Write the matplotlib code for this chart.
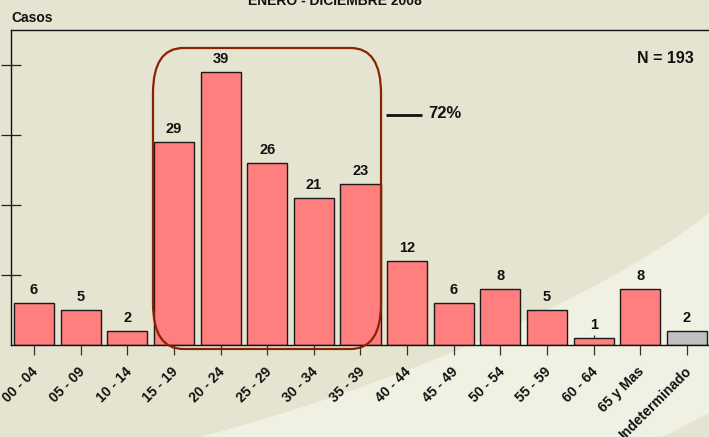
import numpy as np
import matplotlib
matplotlib.use("Agg")
import matplotlib.pyplot as plt
from matplotlib.patches import FancyBboxPatch, PathPatch
from matplotlib.path import Path

plt.rcParams["font.family"] = ["Liberation Sans", "DejaVu Sans"]
plt.rcParams["font.weight"] = "bold"

# casos por grupo de edad, enero - diciembre 2008
grupos = ["00 - 04", "05 - 09", "10 - 14", "15 - 19", "20 - 24", "25 - 29",
          "30 - 34", "35 - 39", "40 - 44", "45 - 49", "50 - 54", "55 - 59",
          "60 - 64", "65 y Mas", "Indeterminado"]
casos = [6, 5, 2, 29, 39, 26, 21, 23, 12, 6, 8, 5, 1, 8, 2]
total = 193
porcentaje_15_39 = 72

W, H = 709, 437
BG = "#E5E4D0"
LIGHT = "#F0F0E3"

fig = plt.figure(figsize=(W / 100, H / 100), dpi=100, facecolor=BG)


def px(x, y):
    return (x / W, 1 - y / H)


# franja clara de fondo
verts = [px(200, 437), px(380, 390), px(600, 300), px(709, 213),
         px(709, 413), px(663, 437), px(200, 437)]
codes = [Path.MOVETO, Path.CURVE4, Path.CURVE4, Path.CURVE4,
         Path.LINETO, Path.LINETO, Path.CLOSEPOLY]
fig.patches.append(PathPatch(Path(verts, codes), transform=fig.transFigure,
                             facecolor=LIGHT, edgecolor="none", zorder=-5))

ax = fig.add_axes([10.7 / W, (H - 345) / H, 699.6 / W, 315 / H])
ax.set_facecolor("none")
ax.set_zorder(2)

x = np.arange(len(grupos))
colores = ["#FF7F7F"] * (len(grupos) - 1) + ["#C0C0C0"]
ax.bar(x, casos, width=0.858, color=colores, edgecolor="#1a1a1a",
       linewidth=1.0, zorder=2)

ax.set_xlim(-0.5, 14.5)
ax.set_ylim(0, 45)

for xi, v in zip(x, casos):
    ax.annotate(str(v), (xi, v), xytext=(0, 4.5), textcoords="offset points",
                ha="center", va="bottom", fontsize=10.5, fontweight="bold",
                color="#111")

for xi, g in zip(x, grupos):
    ax.annotate(g, (xi, 0), xytext=(1.5, -17.5), textcoords="offset points",
                ha="right", va="center", rotation=45, rotation_mode="anchor",
                fontsize=10, fontweight="bold", color="#111",
                annotation_clip=False)

ax.set_xticks(x)
ax.set_yticks([10, 20, 30, 40])
ax.tick_params(axis="x", direction="inout", length=15, width=0.9,
               color="#333", labelbottom=False)
ax.tick_params(axis="y", direction="inout", length=15, width=0.9,
               color="#222", labelleft=False)

for side in ["left", "bottom", "top"]:
    ax.spines[side].set_color("#111")
    ax.spines[side].set_linewidth(1.0)
ax.spines["right"].set_visible(False)

# recuadro redondeado para 15 - 39 anos
caja = FancyBboxPatch((2.551, -0.57), 7.44 - 2.551, 42.43 + 0.57,
                      boxstyle="round,pad=0,rounding_size=0.65",
                      mutation_aspect=10, facecolor="none",
                      edgecolor="#8B2200", linewidth=1.6,
                      clip_on=False, zorder=3)
ax.add_patch(caja)

ax.plot([7.547, 8.32], [32.86, 32.86], color="#111", linewidth=2,
        solid_capstyle="butt", zorder=3)
ax.text(8.45, 33.0, f"{porcentaje_15_39}%", ha="left", va="center",
        fontsize=12, fontweight="bold", color="#111")

ax.text(13.53, 40.86, f"N = {total}", ha="center", va="center",
        fontsize=11.5, fontweight="bold", color="#111")

fig.text(11 / W, 1 - 17.5 / H, "Casos", ha="left", va="center",
         fontsize=10, fontweight="bold", color="#111")
fig.text(334.5 / W, 1 - 5 / H, "ENERO - DICIEMBRE 2008", ha="center",
         va="baseline", fontsize=10, fontweight="bold", color="#111")

fig.savefig("out.png", dpi=100, facecolor=BG)
